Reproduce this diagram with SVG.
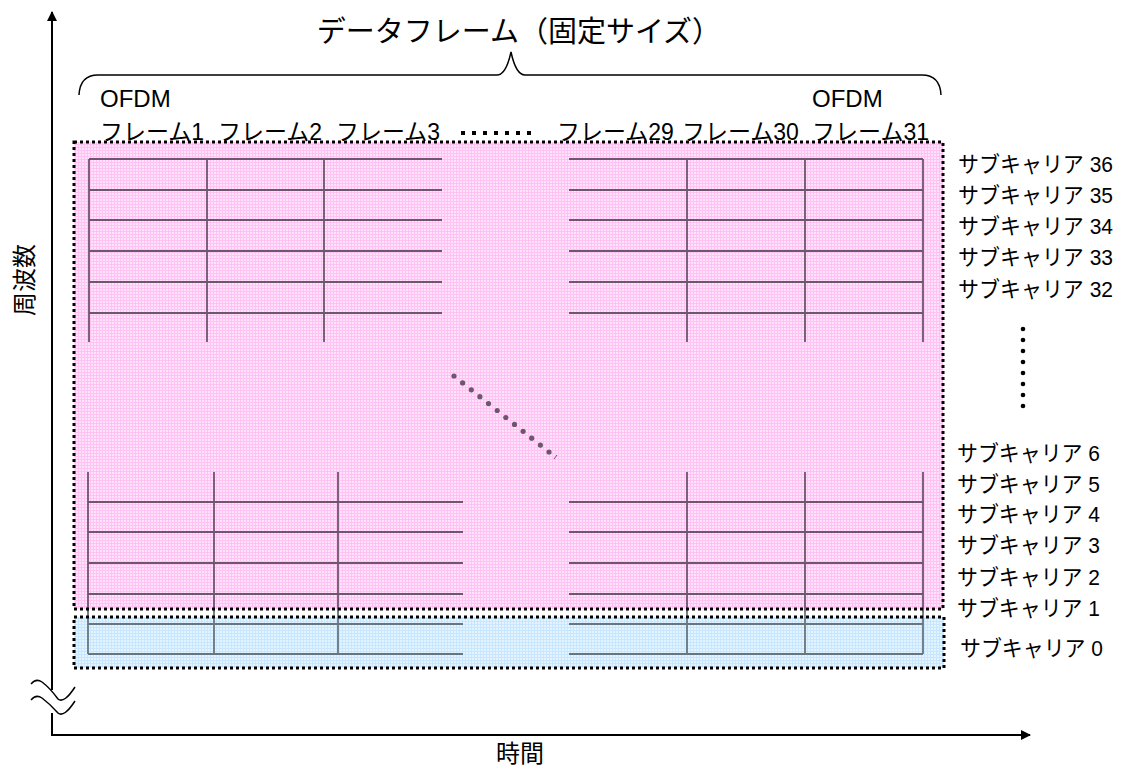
<svg xmlns="http://www.w3.org/2000/svg" width="1132" height="772" viewBox="0 0 1132 772">
<style>
text{font-family:"Liberation Sans","Noto Sans CJK JP",sans-serif;fill:#000}
.lbl{font-size:22px}
.fr{font-size:23px}
.dot{fill:none;stroke:#000;stroke-width:3;stroke-dasharray:3 3}
.g{stroke:#6e566e;stroke-width:1.8;fill:none}
.gb{stroke:#667680;stroke-width:1.8;fill:none}
.ax{stroke:#000;stroke-width:2;fill:none}
</style>
<defs>
<pattern id="pk" width="3" height="3" patternUnits="userSpaceOnUse"><rect width="3" height="3" fill="#ffe2fb"/><path d="M0 0.5H3M0.5 0V3" stroke="#ffc2f3" stroke-width="1"/></pattern>
<pattern id="bl" width="3" height="3" patternUnits="userSpaceOnUse"><rect width="3" height="3" fill="#e4f4ff"/><path d="M0 0.5H3M0.5 0V3" stroke="#c8e7ff" stroke-width="1"/></pattern>
<marker id="ah" viewBox="0 0 10 10" refX="9" refY="5" markerWidth="5" markerHeight="5" orient="auto"><path d="M0 0L10 5L0 10z" fill="#000"/></marker>
</defs>
<rect width="1132" height="772" fill="#fff"/>

<g id="title">
<text x="519" y="42" font-size="29" text-anchor="middle">データフレーム（固定サイズ）</text>
<path d="M79 95Q80 75 98 75H497Q506 75 511 52Q516 75 525 75H922Q940 75 941 95" fill="none" stroke="#000" stroke-width="1.5"/>
</g>

<g id="pink-region">
<rect x="74" y="142" width="869" height="467" fill="url(#pk)"/>
</g>
<g id="blue-region">
<rect x="74" y="617" width="870" height="51" fill="url(#bl)"/>
</g>

<g id="grid-top-left">
<path class="g" d="M89 159H442M89 190H442M89 220H442M89 251H442M89 282H442M89 313H442M89 159V342M207 159V342M324 159V342"/>
</g>
<g id="grid-top-right">
<path class="g" d="M569 159H923M569 190H923M569 220H923M569 251H923M569 282H923M569 313H923M687 159V342M805 159V342M923 159V342"/>
</g>
<g id="grid-bottom-left">
<path class="g" d="M88 502H463M88 532H463M88 563H463M88 594H463M88 472V612M214 472V612M338 472V612"/>
<path class="gb" d="M88 624H463M88 654H463M88 612V654M214 612V654M338 612V654"/>
</g>
<g id="grid-bottom-right">
<path class="g" d="M569 502H923M569 532H923M569 563H923M569 594H923M687 472V612M805 472V612M923 472V612"/>
<path class="gb" d="M569 624H923M569 654H923M687 612V654M805 612V654M923 612V654"/>
</g>

<g id="diag-dots" fill="#6e566e">
<circle cx="454" cy="376" r="2.6"/><circle cx="462.6" cy="382.9" r="2.6"/><circle cx="471.3" cy="389.8" r="2.6"/><circle cx="479.9" cy="396.7" r="2.6"/><circle cx="488.5" cy="403.6" r="2.6"/><circle cx="497.2" cy="410.5" r="2.6"/><circle cx="505.8" cy="417.5" r="2.6"/><circle cx="514.5" cy="424.4" r="2.6"/><circle cx="523.1" cy="431.3" r="2.6"/><circle cx="531.7" cy="438.2" r="2.6"/><circle cx="540.4" cy="445.1" r="2.6"/><circle cx="549" cy="452" r="2.6"/>
<path d="M554 459L557 455" stroke="#6e566e" stroke-width="1"/>
</g>

<g id="pink-border"><rect class="dot" x="74" y="142" width="869" height="467"/></g>
<g id="blue-border"><rect class="dot" x="74" y="617" width="870" height="51"/></g>

<g id="frame-labels" class="fr">
<text x="100" y="107" font-size="24">OFDM</text>
<text x="812" y="107" font-size="24">OFDM</text>
<text x="100" y="140">フレーム1</text>
<text x="218" y="140">フレーム2</text>
<text x="336" y="140">フレーム3</text>
<text x="557" y="140">フレーム29</text>
<text x="682" y="140">フレーム30</text>
<text x="929" y="140" text-anchor="end">フレーム31</text>
</g>
<g id="frame-ellipsis" fill="#000">
<rect x="461" y="131" width="4" height="4"/><rect x="472" y="131" width="4" height="4"/><rect x="483" y="131" width="4" height="4"/><rect x="494" y="131" width="4" height="4"/><rect x="505" y="131" width="4" height="4"/><rect x="516" y="131" width="4" height="4"/><rect x="527" y="131" width="4" height="4"/>
</g>

<g id="subcarrier-labels" class="lbl">
<text x="958" y="172" textLength="155" lengthAdjust="spacingAndGlyphs">サブキャリア 36</text>
<text x="958" y="203" textLength="155" lengthAdjust="spacingAndGlyphs">サブキャリア 35</text>
<text x="958" y="234" textLength="155" lengthAdjust="spacingAndGlyphs">サブキャリア 34</text>
<text x="958" y="265" textLength="155" lengthAdjust="spacingAndGlyphs">サブキャリア 33</text>
<text x="958" y="297" textLength="155" lengthAdjust="spacingAndGlyphs">サブキャリア 32</text>
<text x="957" y="461" textLength="143" lengthAdjust="spacingAndGlyphs">サブキャリア 6</text>
<text x="957" y="492" textLength="143" lengthAdjust="spacingAndGlyphs">サブキャリア 5</text>
<text x="957" y="522" textLength="143" lengthAdjust="spacingAndGlyphs">サブキャリア 4</text>
<text x="957" y="553" textLength="143" lengthAdjust="spacingAndGlyphs">サブキャリア 3</text>
<text x="957" y="585" textLength="143" lengthAdjust="spacingAndGlyphs">サブキャリア 2</text>
<text x="957" y="616" textLength="143" lengthAdjust="spacingAndGlyphs">サブキャリア 1</text>
<text x="960" y="656" textLength="143" lengthAdjust="spacingAndGlyphs">サブキャリア 0</text>
</g>
<g id="subcarrier-ellipsis" fill="#000">
<circle cx="1023" cy="329" r="2.3"/><circle cx="1023" cy="340" r="2.3"/><circle cx="1023" cy="351" r="2.3"/><circle cx="1023" cy="362" r="2.3"/><circle cx="1023" cy="373" r="2.3"/><circle cx="1023" cy="384" r="2.3"/><circle cx="1023" cy="395" r="2.3"/><circle cx="1023" cy="406" r="2.3"/>
</g>

<g id="axis-labels">
<text x="0" y="0" font-size="24" text-anchor="middle" transform="translate(33 280) rotate(-90)">周波数</text>
<text x="520" y="762" font-size="24" text-anchor="middle">時間</text>
</g>

<g id="connectors">
<path class="ax" d="M52 690V12" marker-end="url(#ah)"/>
<path class="ax" d="M52 713V735H1030" marker-end="url(#ah)"/>
<path d="M31 684Q36 678 42 682Q50 688 58 699Q64 704 75 687" fill="none" stroke="#000" stroke-width="1.5"/>
<path d="M31 700Q36 694 42 698Q50 704 58 713Q64 718 75 701" fill="none" stroke="#000" stroke-width="1.5"/>
</g>
</svg>
